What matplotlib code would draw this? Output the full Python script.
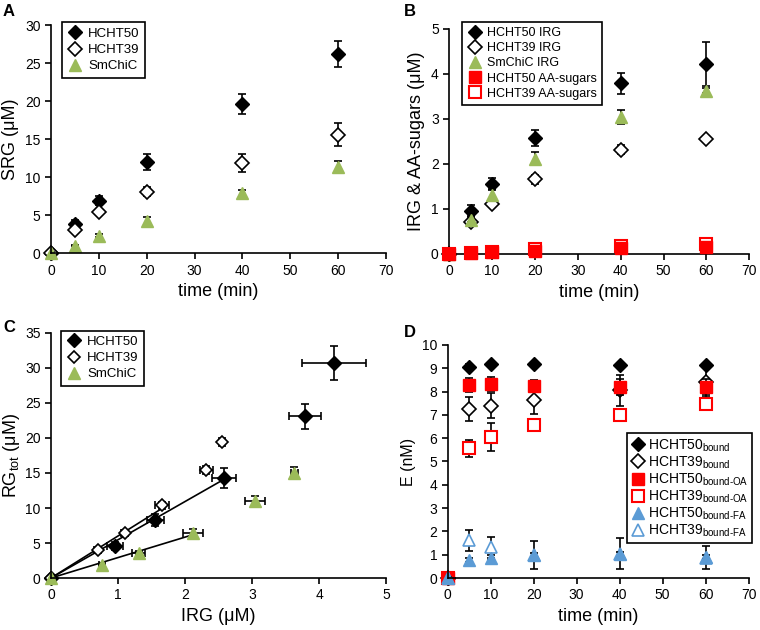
import matplotlib
matplotlib.use("Agg")
import matplotlib.pyplot as plt
import numpy as np

plt.rcParams['font.family'] = ['Liberation Sans', 'DejaVu Sans']
plt.rcParams['mathtext.fontset'] = 'custom'
plt.rcParams['mathtext.rm'] = 'Liberation Sans'

t = [0, 5, 10, 20, 40, 60]
GREEN = '#9BBB59'
RED = '#FF0000'
BLUE = '#5B9BD5'

# panel A - SRG
srg_50 = [0, 3.8, 6.9, 12.0, 19.6, 26.2]
srg_50_err = [0.2, 0.6, 0.6, 1.0, 1.3, 1.7]
srg_39 = [0, 3.1, 5.4, 8.1, 11.9, 15.6]
srg_39_err = [0.1, 0.3, 0.3, 0.6, 1.2, 1.5]
srg_sm = [0, 1.0, 2.3, 4.3, 7.9, 11.3]
srg_sm_err = [0.1, 0.1, 0.2, 0.5, 0.4, 0.8]

# panel B - IRG and AA-sugars
irg_50 = [0, 0.96, 1.56, 2.58, 3.79, 4.22]
irg_50_err = [0.02, 0.12, 0.12, 0.18, 0.24, 0.48]
irg_39 = [0, 0.70, 1.10, 1.66, 2.32, 2.55]
irg_39_err = [0.02, 0.05, 0.05, 0.1, 0.1, 0.03]
irg_sm = [0, 0.76, 1.31, 2.12, 3.04, 3.63]
irg_sm_err = [0.02, 0.05, 0.1, 0.15, 0.15, 0.05]
aa_50 = [0, 0.02, 0.04, 0.06, 0.12, 0.15]
aa_39 = [0, 0.02, 0.04, 0.10, 0.18, 0.22]

# panel C - RGtot vs IRG
rg_50 = [0, 4.6, 8.3, 14.3, 23.1, 30.7]
rg_50_err = [0.2, 0.6, 0.9, 1.4, 1.8, 2.4]
rg_39 = [0, 4.0, 6.5, 10.4, 15.4, 19.4]
rg_39_err = [0.1, 0.3, 0.4, 0.5, 0.6, 0.6]
rg_sm = [0, 1.9, 3.6, 6.5, 11.0, 15.0]
rg_sm_err = [0.1, 0.1, 0.2, 0.5, 0.7, 0.9]
fit_slope = [5.46, 6.0, 2.92]
fit_xmax = [2.54, 1.62, 2.14]

# panel D - enzyme bound
b_50 = [0, 9.07, 9.18, 9.18, 9.14, 9.14]
b_50_err = [0.05, 0.1, 0.1, 0.1, 0.1, 0.1]
b_39 = [0, 7.25, 7.4, 7.62, 8.05, 8.4]
b_39_err = [0.05, 0.5, 0.55, 0.6, 0.65, 0.65]
oa_50 = [0, 8.3, 8.32, 8.25, 8.2, 8.2]
oa_50_err = [0.05, 0.3, 0.3, 0.25, 0.35, 0.35]
oa_39 = [0, 5.57, 6.05, 6.55, 6.98, 7.48]
oa_39_err = [0.05, 0.37, 0.58, 0.2, 0.1, 0.2]
fa_50 = [0, 0.78, 0.88, 0.98, 1.02, 0.9]
fa_50_err = [0.05, 0.1, 0.1, 0.1, 0.1, 0.1]
fa_39 = [0, 1.63, 1.33, 1.0, 1.05, 0.88]
fa_39_err = [0.05, 0.45, 0.45, 0.6, 0.65, 0.5]

fig = plt.figure(figsize=(7.6, 6.3), dpi=100)

def style(ax):
    ax.spines['top'].set_visible(False)
    ax.spines['right'].set_visible(False)
    ax.spines['left'].set_linewidth(1.2)
    ax.spines['bottom'].set_linewidth(1.2)
    ax.tick_params(direction='out', length=4, width=1.2, labelsize=10)

def ebar(ax, x, y, yerr=None, xerr=None, **kw):
    ax.errorbar(x, y, yerr=yerr, xerr=xerr, fmt='none', ecolor='black',
                elinewidth=1.2, capsize=3, capthick=1.2, zorder=2)
    h = ax.plot(x, y, linestyle='none', **kw)[0]
    h.set_clip_on(False)
    return h

def legend(ax, handles, labels, anchor, size, **kw):
    opts = dict(loc='upper left', bbox_to_anchor=anchor, borderaxespad=0,
                fancybox=False, edgecolor='black', fontsize=size,
                handletextpad=0.4, labelspacing=0.3, handlelength=1.2,
                framealpha=1)
    opts.update(kw)
    leg = ax.legend(handles, labels, **opts)
    leg.get_frame().set_linewidth(1.2)
    return leg

# ---- A
axA = fig.add_axes([0.067, 0.598, 0.441, 0.362])
style(axA)
h1 = ebar(axA, t, srg_50, srg_50_err, marker='D', color='black', markersize=7)
h2 = ebar(axA, t, srg_39, srg_39_err, marker='D', mfc='white', mec='black', mew=1.2, markersize=7)
h3 = ebar(axA, t, srg_sm, srg_sm_err, marker='^', color=GREEN, markersize=9)
axA.set_xlim(0, 70)
axA.set_ylim(0, 30)
axA.set_xticks(range(0, 71, 10))
axA.set_yticks(range(0, 31, 5))
axA.set_xlabel('time (min)', fontsize=13)
axA.set_ylabel('SRG (\u03bcM)', fontsize=13)
legend(axA, [h1, h2, h3], ['HCHT50', 'HCHT39', 'SmChiC'], (0.033, 1.012), 9.5)
fig.text(0.004, 0.993, 'A', fontsize=12, fontweight='bold', va='top')

# ---- B
axB = fig.add_axes([0.591, 0.597, 0.395, 0.357])
style(axB)
h1 = ebar(axB, t, irg_50, irg_50_err, marker='D', color='black', markersize=7)
h2 = ebar(axB, t, irg_39, irg_39_err, marker='D', mfc='white', mec='black', mew=1.2, markersize=7)
h3 = ebar(axB, t, irg_sm, irg_sm_err, marker='^', color=GREEN, markersize=9)
h5 = axB.plot(t, aa_39, linestyle='none', marker='s', mfc='white', mec=RED, mew=1.5,
              markersize=8, zorder=3, clip_on=False)[0]
h4 = axB.plot(t, aa_50, linestyle='none', marker='s', color=RED, markersize=8,
              zorder=4, clip_on=False)[0]
axB.set_xlim(0, 70)
axB.set_ylim(0, 5)
axB.set_xticks(range(0, 71, 10))
axB.set_yticks(range(0, 6))
axB.set_xlabel('time (min)', fontsize=13)
axB.set_ylabel('IRG & AA-sugars (\u03bcM)', fontsize=13)
legend(axB, [h1, h2, h3, h4, h5],
       ['HCHT50 IRG', 'HCHT39 IRG', 'SmChiC IRG', 'HCHT50 AA-sugars', 'HCHT39 AA-sugars'],
       (0.043, 1.03), 9, labelspacing=0.25)
fig.text(0.532, 0.993, 'B', fontsize=12, fontweight='bold', va='top')

# ---- C
axC = fig.add_axes([0.067, 0.0825, 0.441, 0.389])
style(axC)
for slope, xm in zip(fit_slope, fit_xmax):
    xs = np.array([0, xm])
    axC.plot(xs, slope * xs, color='black', linewidth=1.2, zorder=1)
h1 = ebar(axC, irg_50, rg_50, rg_50_err, irg_50_err, marker='D', color='black', markersize=7)
h2 = ebar(axC, irg_39, rg_39, rg_39_err, irg_39_err, marker='D', mfc='white', mec='black', mew=1.2, markersize=6)
h3 = ebar(axC, irg_sm, rg_sm, rg_sm_err, irg_sm_err, marker='^', color=GREEN, markersize=9)
axC.set_xlim(0, 5)
axC.set_ylim(0, 35)
axC.set_xticks(range(0, 6))
axC.set_yticks(range(0, 36, 5))
axC.set_xlabel('IRG (\u03bcM)', fontsize=13)
axC.set_ylabel('RG$_{\\mathrm{tot}}$ (\u03bcM)', fontsize=13, labelpad=2)
legend(axC, [h1, h2, h3], ['HCHT50', 'HCHT39', 'SmChiC'], (0.03, 1.01), 9.5)
fig.text(0.004, 0.492, 'C', fontsize=12, fontweight='bold', va='top')

# ---- D
axD = fig.add_axes([0.589, 0.0825, 0.396, 0.370])
style(axD)
h1 = ebar(axD, t, b_50, b_50_err, marker='D', color='black', markersize=7)
h2 = ebar(axD, t, b_39, b_39_err, marker='D', mfc='white', mec='black', mew=1.2, markersize=7)
h4 = ebar(axD, t, oa_39, oa_39_err, marker='s', mfc='white', mec=RED, mew=1.5, markersize=8)
h3 = ebar(axD, t, oa_50, oa_50_err, marker='s', color=RED, markersize=9)
h6 = ebar(axD, t, fa_39, fa_39_err, marker='^', mfc='white', mec=BLUE, mew=1.2, markersize=9)
h5 = ebar(axD, t, fa_50, fa_50_err, marker='^', color=BLUE, markersize=9)
axD.set_xlim(0, 70)
axD.set_ylim(0, 10)
axD.set_xticks(range(0, 71, 10))
axD.set_yticks(range(0, 11))
axD.set_xlabel('time (min)', fontsize=13)
axD.set_ylabel('E (nM)', fontsize=11.5)
labels = ['HCHT50$_{\\mathrm{bound}}$', 'HCHT39$_{\\mathrm{bound}}$',
          'HCHT50$_{\\mathrm{bound\u2010OA}}$', 'HCHT39$_{\\mathrm{bound\u2010OA}}$',
          'HCHT50$_{\\mathrm{bound\u2010FA}}$', 'HCHT39$_{\\mathrm{bound\u2010FA}}$']
legend(axD, [h1, h2, h3, h4, h5, h6], labels, (0.595, 0.622), 10,
       handletextpad=0.2, labelspacing=0.05, handlelength=1.0, borderpad=0.3)
fig.text(0.532, 0.484, 'D', fontsize=12, fontweight='bold', va='top')

fig.savefig('out.png', dpi=100)
